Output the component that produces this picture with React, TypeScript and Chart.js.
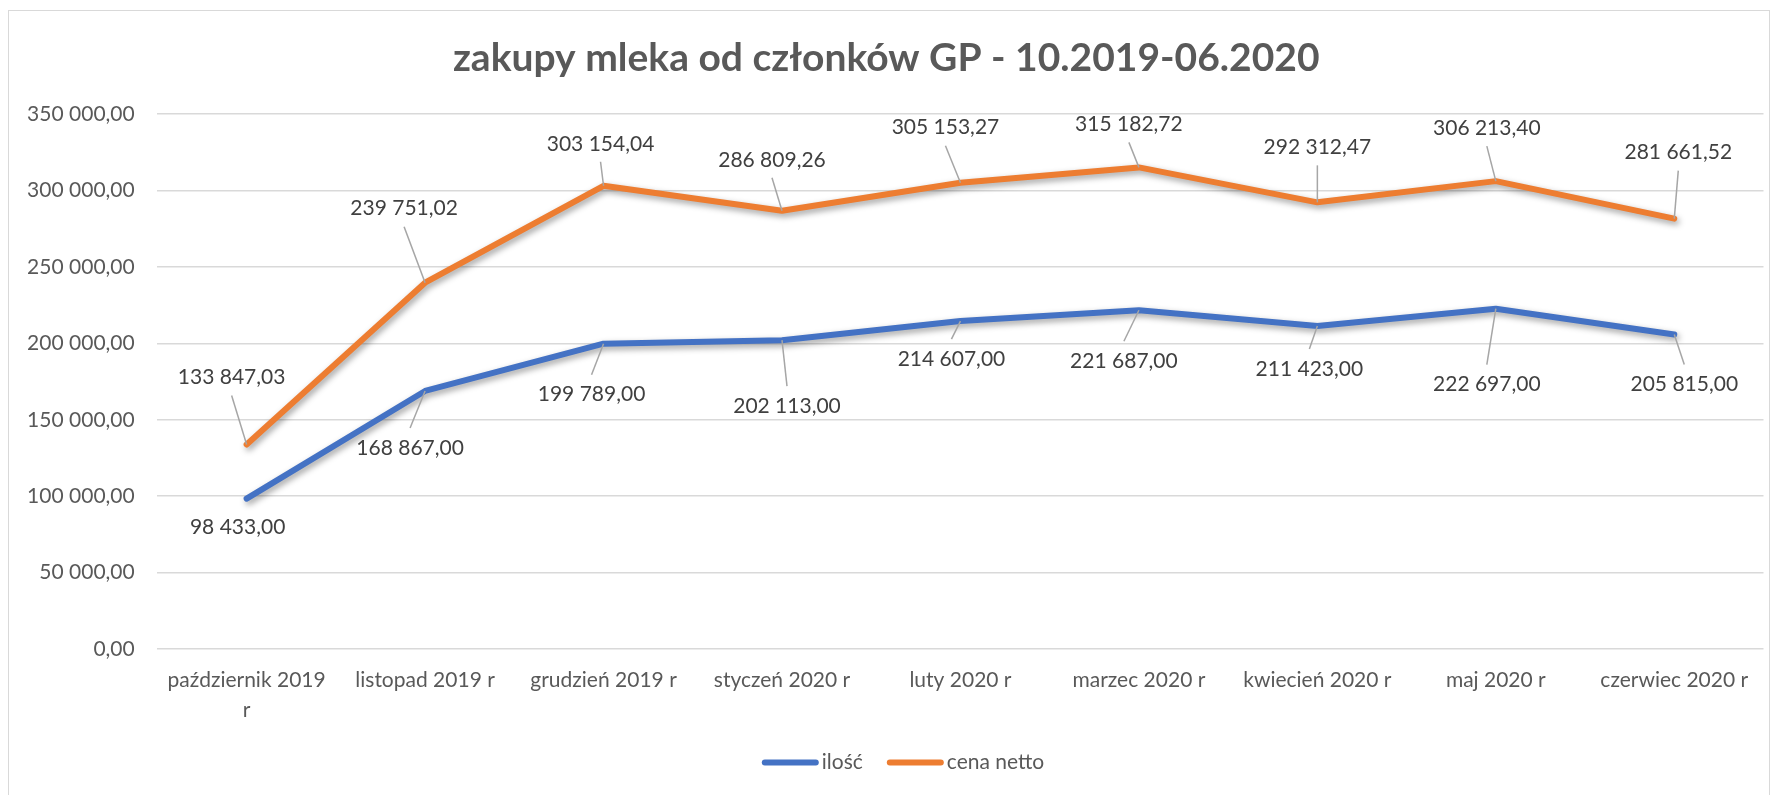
import React, { useEffect, useRef } from "react";
import { Chart, registerables } from "chart.js";

Chart.register(...registerables);

// ---------- data ----------
const chartTitle = "zakupy mleka od członków GP - 10.2019-06.2020";
const categories = [
  "październik 2019 r",
  "listopad 2019 r",
  "grudzień 2019 r",
  "styczeń 2020 r",
  "luty 2020 r",
  "marzec 2020 r",
  "kwiecień 2020 r",
  "maj 2020 r",
  "czerwiec 2020 r",
];
const seriesNames = ["ilość", "cena netto"];
const ilosc = [98433, 168867, 199789, 202113, 214607, 221687, 211423, 222697, 205815];
const cenaNetto = [
  133847.03, 239751.02, 303154.04, 286809.26, 305153.27, 315182.72, 292312.47, 306213.4, 281661.52,
];
const yMin = 0;
const yMax = 350000;
const yStep = 50000;

// ---------- styling ----------
const seriesColors = ["#4472C4", "#ED7D31"];
// label placement relative to each point (px)
const iloscLabelOffsets = [
  [-9, 29], [-15, 57], [-12, 51], [5, 66], [-9, 38], [-15, 51], [-8, 43], [-9, 76], [10, 50],
];
const cenaLabelOffsets = [
  [-15, -67], [-21, -74], [-3, -42], [-10, -51], [-15, -55], [-10, -43], [0, -55], [-9, -53], [4, -66],
];

const FONT = "Lato";
const TEXT_GRAY = "#595959";
const LABEL_GRAY = "#404040";

function fmt(v: number): string {
  const [i, d] = v.toFixed(2).split(".");
  const grouped = i.replace(/\B(?=(\d{3})+(?!\d))/g, " ");
  return grouped + "," + d;
}

function wrapLabel(s: string): string | string[] {
  if (s.length > 16) {
    const k = s.lastIndexOf(" ");
    return [s.slice(0, k), s.slice(k + 1)];
  }
  return s;
}

const shadowPlugin = {
  id: "lineShadow",
  beforeDatasetDraw(chart: any) {
    const c = chart.ctx;
    c.save();
    c.shadowColor = "rgba(0,0,0,0.38)";
    c.shadowBlur = 6;
    c.shadowOffsetX = 2;
    c.shadowOffsetY = 3;
  },
  afterDatasetDraw(chart: any) {
    chart.ctx.restore();
  },
};

const dataLabelPlugin = {
  id: "dataLabels",
  afterDatasetsDraw(chart: any) {
    const ctx = chart.ctx;
    chart.data.datasets.forEach((ds: any, di: number) => {
      const meta = chart.getDatasetMeta(di);
      const offs = ds.labelOffsets as number[][];
      meta.data.forEach((pt: any, i: number) => {
        const [dx, dy] = offs[i];
        const lx = pt.x + dx;
        const ly = pt.y + dy;
        const ey = dy < 0 ? ly + 18 : ly - 20;
        const len = Math.hypot(lx - pt.x, ey - pt.y);
        const ok = dy < 0 ? ey < pt.y : ey > pt.y;
        if (len > 15 && ok) {
          ctx.save();
          ctx.strokeStyle = "#a6a6a6";
          ctx.lineWidth = 1.5;
          ctx.beginPath();
          ctx.moveTo(lx, ey);
          ctx.lineTo(pt.x, pt.y);
          ctx.stroke();
          ctx.restore();
        }
        ctx.save();
        ctx.font = `21px ${FONT}`;
        ctx.fillStyle = LABEL_GRAY;
        ctx.textAlign = "center";
        ctx.textBaseline = "middle";
        ctx.fillText(fmt(ds.data[i]), lx, ly);
        ctx.restore();
      });
    });
  },
};

const legendPlugin = {
  id: "customLegend",
  afterDraw(chart: any) {
    const ctx = chart.ctx;
    ctx.save();
    ctx.font = `21px ${FONT}`;
    const items = chart.data.datasets.map((ds: any) => ({
      label: ds.label as string,
      color: ds.borderColor as string,
    }));
    const lineLen = 57;
    const gap = 3;
    const spacing = 24;
    const widths = items.map((it: any) => lineLen + gap + ctx.measureText(it.label).width);
    const total = widths.reduce((a: number, b: number) => a + b, 0) + spacing * (items.length - 1);
    let x = chart.width / 2 + 14 - total / 2;
    const y = chart.height - 38.5;
    items.forEach((it: any, k: number) => {
      ctx.strokeStyle = it.color;
      ctx.lineWidth = 6;
      ctx.lineCap = "round";
      ctx.beginPath();
      ctx.moveTo(x + 3, y);
      ctx.lineTo(x + lineLen - 3, y);
      ctx.stroke();
      ctx.fillStyle = TEXT_GRAY;
      ctx.textAlign = "left";
      ctx.textBaseline = "middle";
      ctx.fillText(it.label, x + lineLen + gap, y);
      x += widths[k] + spacing;
    });
    ctx.restore();
  },
};

export default function App() {
  const ref = useRef<HTMLCanvasElement>(null);

  useEffect(() => {
    if (!ref.current) return;
    const chart = new Chart(ref.current, {
      type: "line",
      data: {
        labels: categories,
        datasets: [
          {
            label: seriesNames[0],
            data: ilosc,
            borderColor: seriesColors[0],
            backgroundColor: seriesColors[0],
            borderWidth: 6,
            borderCapStyle: "round",
            borderJoinStyle: "round",
            pointRadius: 0,
            pointHoverRadius: 0,
            tension: 0,
            fill: false,
            labelOffsets: iloscLabelOffsets,
          } as any,
          {
            label: seriesNames[1],
            data: cenaNetto,
            borderColor: seriesColors[1],
            backgroundColor: seriesColors[1],
            borderWidth: 6,
            borderCapStyle: "round",
            borderJoinStyle: "round",
            pointRadius: 0,
            pointHoverRadius: 0,
            tension: 0,
            fill: false,
            labelOffsets: cenaLabelOffsets,
          } as any,
        ],
      },
      options: {
        responsive: false,
        animation: false,
        events: [],
        layout: { padding: { left: 0, right: 5.5, top: 0, bottom: 0 } },
        plugins: {
          legend: { display: false },
          tooltip: { enabled: false },
          title: {
            display: true,
            text: chartTitle,
            color: TEXT_GRAY,
            font: { family: FONT, size: 39, weight: "bold", lineHeight: 1.2 },
            padding: { top: 23.6, bottom: 32.8 },
          },
        },
        scales: {
          x: {
            type: "category",
            offset: true,
            grid: { display: false, drawTicks: false },
            border: { display: false },
            ticks: {
              color: TEXT_GRAY,
              font: { family: FONT, size: 21, lineHeight: 1.43 },
              padding: 16,
              maxRotation: 0,
              autoSkip: false,
              callback: (_v: any, i: number) => wrapLabel(categories[i]),
            },
            afterFit: (scale: any) => {
              scale.height = 152;
            },
          },
          y: {
            min: yMin,
            max: yMax,
            grid: { color: "#d9d9d9", lineWidth: 1.5, drawTicks: false },
            border: { display: false },
            ticks: {
              stepSize: yStep,
              color: TEXT_GRAY,
              font: { family: FONT, size: 21 },
              padding: 22.7,
              callback: (v: any) => fmt(Number(v)),
            },
            afterFit: (scale: any) => {
              scale.width = 148.4;
            },
          },
        },
      },
      plugins: [shadowPlugin, dataLabelPlugin, legendPlugin],
    });
    let alive = true;
    if ((document as any).fonts && (document as any).fonts.load) {
      Promise.all([
        (document as any).fonts.load(`21px ${FONT}`),
        (document as any).fonts.load(`bold 39px ${FONT}`),
      ]).then(() => {
        if (alive) chart.update();
      });
    }
    return () => {
      alive = false;
      chart.destroy();
    };
  }, []);

  return (
    <div
      style={{
        position: "relative",
        top: 2,
        width: 1760,
        height: 790,
        border: "1px solid #d9d9d9",
        background: "#ffffff",
      }}
    >
      <canvas ref={ref} width={1760} height={790} style={{ display: "block" }} />
    </div>
  );
}
